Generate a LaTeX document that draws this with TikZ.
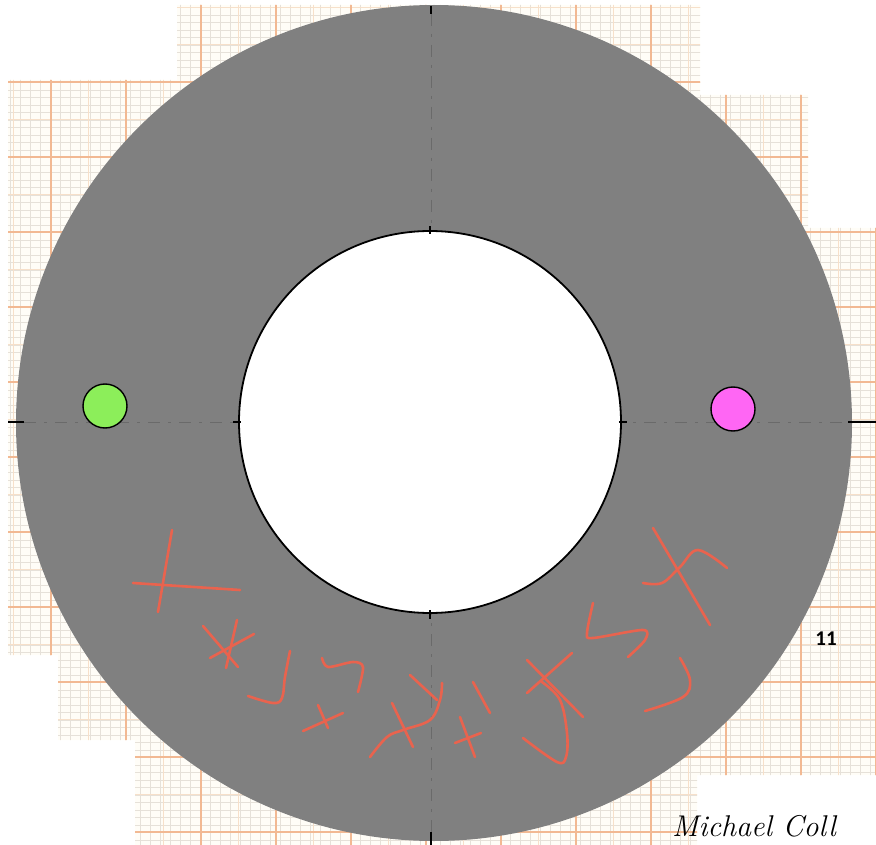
\documentclass[tikz,border=0pt]{standalone}
\usepackage{fontspec}
\newfontfamily\numfont{Carlito}
\definecolor{paperfill}{HTML}{FFFDF7}
\definecolor{paperminor}{HTML}{E6E1D9}
\definecolor{papermid}{HTML}{F7E0CA}
\definecolor{papermajor}{HTML}{F2B993}
\definecolor{ringgray}{HTML}{808080}
\definecolor{axisgray}{HTML}{6A6A6A}
\definecolor{greendot}{HTML}{8CEE5A}
\definecolor{pinkdot}{HTML}{FF66F4}
\definecolor{inkred}{HTML}{E9634E}
\tikzset{
  minorline/.style={draw=paperminor, line width=0.3pt},
  midline/.style={draw=papermid, line width=0.7pt},
  majorline/.style={draw=papermajor, line width=1.1pt},
  centerline/.style={draw=axisgray, line width=0.5pt, dash pattern=on 12pt off 8pt on 3pt off 8pt},
  tickmark/.style={draw=black, line width=1.6pt},
  dotnode/.style={circle, draw=black, line width=1.4pt, inner sep=0pt, minimum size=44pt},
  handstroke/.style={draw=inkred, line width=2.6pt, line cap=round, line join=round},
}
\begin{document}
\begin{tikzpicture}[x=1pt,y=-1pt]
\useasboundingbox (0,0) rectangle (876,845);
% graph paper background
\begin{scope}
\clip (177,5) -- (700,5) -- (700,95) -- (808,95) -- (808,228) -- (876,228) -- (876,775) -- (697,775) -- (697,845) -- (135,845) -- (135,740) -- (58,740) -- (58,655) -- (8,655) -- (8,80) -- (177,80) -- cycle;
\fill[paperfill] (0,0) rectangle (876,845);
\foreach \i in {0,...,87} {
  \draw[minorline] (\i*10,0) -- (\i*10,845);
}
\foreach \i in {0,...,112} {
  \draw[minorline] (0,\i*7.5) -- (876,\i*7.5);
}
\foreach \i in {0,...,23} {
  \draw[midline] (13+\i*37.5,0) -- (13+\i*37.5,845);
  \draw[midline] (0,7+\i*37.5) -- (876,7+\i*37.5);
}
\foreach \i in {0,...,11} {
  \draw[majorline] (51+\i*75,0) -- (51+\i*75,845);
  \draw[majorline] (0,82+\i*75) -- (876,82+\i*75);
}
\end{scope}
% ring
\fill[ringgray] (434,423) circle[radius=418pt];
% centre lines
\coordinate (hl) at (24,422);
\coordinate (hr) at (848,422);
\coordinate (vt) at (431,14);
\coordinate (vb) at (431,832);
\draw[centerline] (hl) -- (hr);
\draw[centerline] (vt) -- (vb);
% inner hole
\node[circle, draw=black, fill=white, line width=1.8pt, inner sep=0pt, minimum size=382pt] (hole) at (430,422) {};
% ticks
\draw[tickmark] (8,422) -- (hl);
\draw[tickmark] (hr) -- (876,422);
\draw[tickmark] (431,6) -- (vt);
\draw[tickmark] (vb) -- (431,845);
\draw[tickmark, line width=1.2pt] (hole.west) ++(-5,0) -- ++(8,0);
\draw[tickmark, line width=1.2pt] (hole.east) ++(-3,0) -- ++(8,0);
\draw[tickmark, line width=1.2pt] (hole.north) ++(0,-4) -- ++(0,8);
\draw[tickmark, line width=1.2pt] (hole.south) ++(0,-4) -- ++(0,9);
% dots
\node[dotnode, fill=greendot] (green) at (105,406) {};
\node[dotnode, fill=pinkdot] (pink) at (733,409) {};
% hand-drawn red marks
\draw[handstroke] (172,530) -- (158,612);
\draw[handstroke] (133,583) -- (240,590);
\draw[handstroke] (203,626) -- (238,667);
\draw[handstroke] (237,620) -- (226,668);
\draw[handstroke] (210,658) -- (254,634);
\draw[handstroke] plot[smooth, tension=0.6] coordinates {(290,651) (285,677) (282,698) (273,703) (248,696)};
\draw[handstroke] plot[smooth, tension=0.5] coordinates {(322,658) (328,667) (353,662) (363,667) (358,692)};
\draw[handstroke] (303,731) -- (343,713);
\draw[handstroke] (318,705) -- (328,728);
\draw[handstroke] plot[smooth, tension=0.6] coordinates {(370,757) (387,737) (403,730) (430,720) (440,700) (442,683)};
\draw[handstroke] (410,675) -- (437,700);
\draw[handstroke] (392,703) -- (413,747);
\draw[handstroke] (473,682) -- (490,713);
\draw[handstroke] (460,717) -- (475,757);
\draw[handstroke] (455,743) -- (481,733);
\draw[handstroke] (527,660) -- (583,717);
\draw[handstroke] (527,693) -- (572,653);
\draw[handstroke] plot[smooth, tension=0.6] coordinates {(542,682) (560,700) (567,733) (566,757) (557,762) (523,738)};
\draw[handstroke] plot[smooth, tension=0.5] coordinates {(593,603) (587,633) (593,638) (643,630) (645,640) (628,657)};
\draw[handstroke] (653,528) -- (710,625);
\draw[handstroke] plot[smooth, tension=0.6] coordinates {(643,583) (662,583) (680,567) (698,550) (727,568)};
\draw[handstroke] plot[smooth, tension=0.6] coordinates {(680,658) (690,680) (683,697) (645,711)};
% texts
\node[font=\numfont\bfseries\fontsize{21}{21}\selectfont, inner sep=0pt] (pagenum) at (826,639) {11};
\node[anchor=base west, font=\itshape\fontsize{30}{30}\selectfont\addfontfeatures{LetterSpace=9}, inner sep=0pt] (signature) at (672,836) {Michael Coll};
\end{tikzpicture}
\end{document}
